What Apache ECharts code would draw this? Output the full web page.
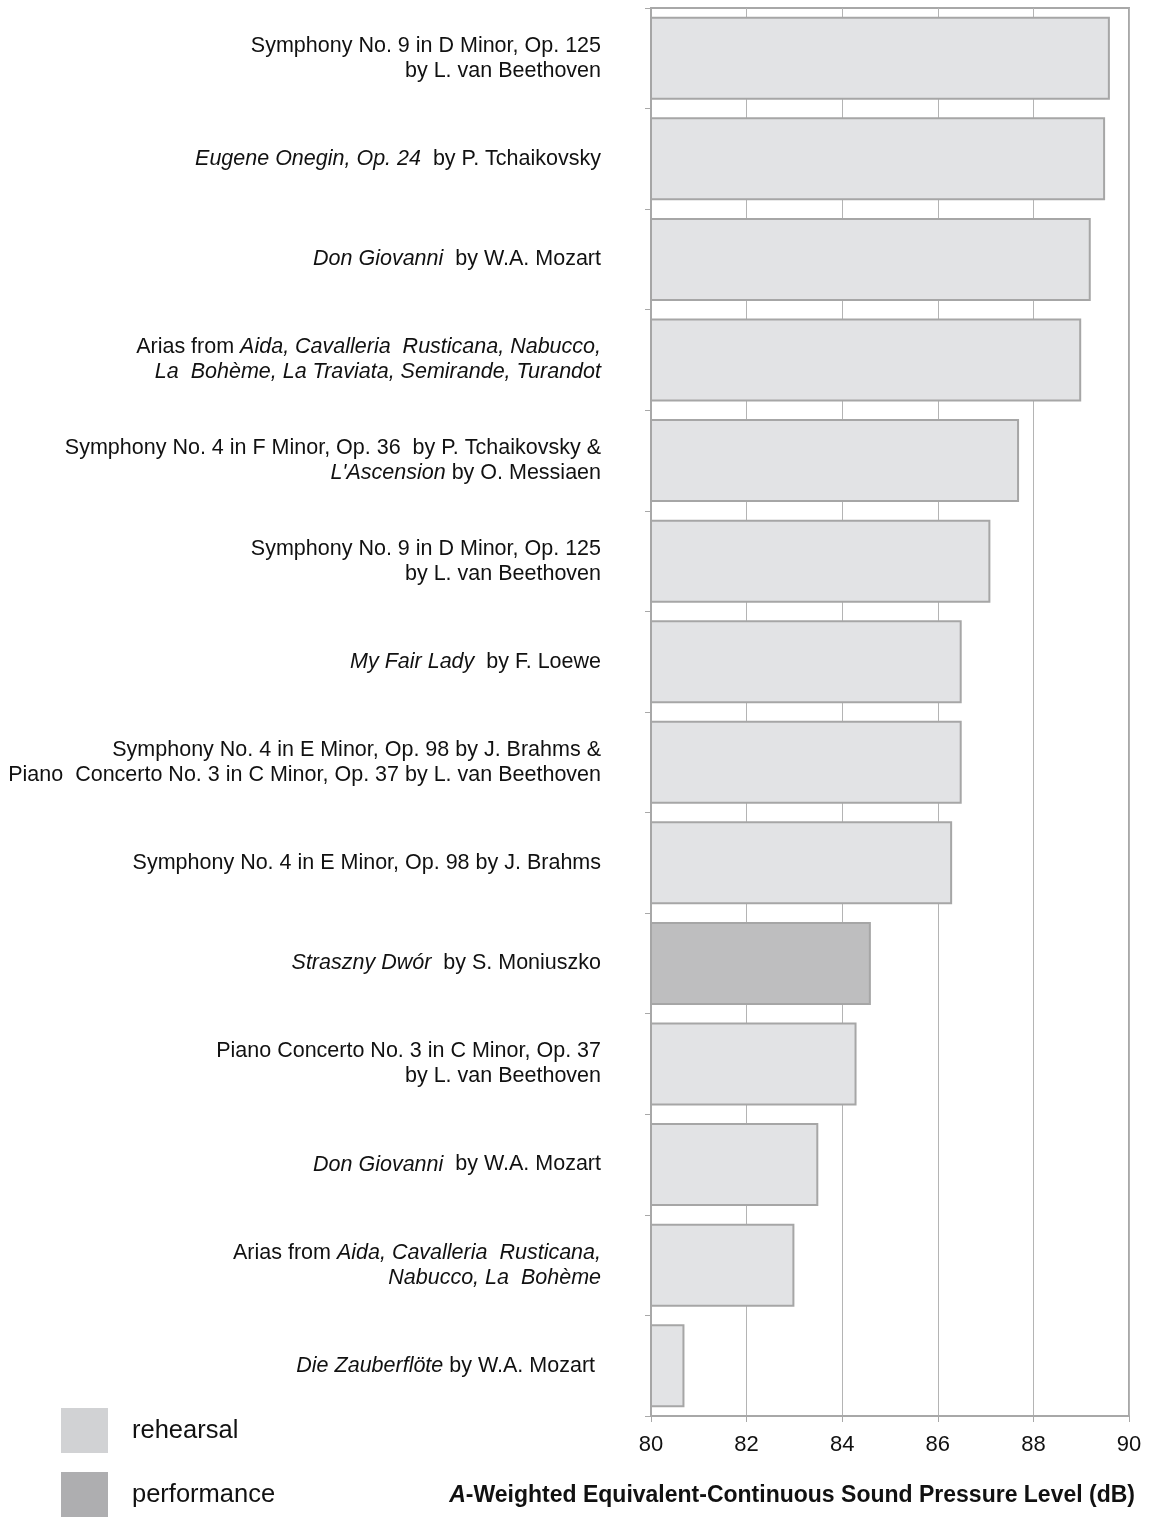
<!DOCTYPE html>
<html>
<head>
<meta charset="utf-8">
<script src="https://cdn.jsdelivr.net/npm/echarts@6/dist/echarts.min.js"></script>
<style>
html,body{margin:0;padding:0;background:#fff;}
#chart{width:1150px;height:1517px;}
</style>
</head>
<body>
<div id="chart"></div>
<script>
// Categories (top to bottom); {i|...} marks italic text
var categories = [
  "Symphony No. 9 in D Minor, Op. 125\nby L. van Beethoven",
  "{i|Eugene Onegin, Op. 24}  by P. Tchaikovsky",
  "{i|Don Giovanni}  by W.A. Mozart",
  "Arias from {i|Aida, Cavalleria  Rusticana, Nabucco,}\n{i|La  Bohème, La Traviata, Semirande, Turandot}",
  "Symphony No. 4 in F Minor, Op. 36  by P. Tchaikovsky &\n{i|L'Ascension} by O. Messiaen",
  "Symphony No. 9 in D Minor, Op. 125\nby L. van Beethoven",
  "{i|My Fair Lady}  by F. Loewe",
  "Symphony No. 4 in E Minor, Op. 98 by J. Brahms &\nPiano  Concerto No. 3 in C Minor, Op. 37 by L. van Beethoven",
  "Symphony No. 4 in E Minor, Op. 98 by J. Brahms",
  "{i|Straszny Dwór}  by S. Moniuszko",
  "Piano Concerto No. 3 in C Minor, Op. 37\nby L. van Beethoven",
  "{i|Don Giovanni}  by W.A. Mozart",
  "Arias from {i|Aida, Cavalleria  Rusticana,}\n{i|Nabucco, La  Bohème}",
  "{i|Die Zauberflöte} by W.A. Mozart "
];
var rehearsal   = [89.6, 89.5, 89.2, 89.0, 87.7, 87.1, 86.5, 86.5, 86.3, '-', 84.3, 83.5, 83.0, 80.7];
var performance = ['-', '-', '-', '-', '-', '-', '-', '-', '-', 84.6, '-', '-', '-', '-'];
var xTicks = [80, 82, 84, 86, 88, 90];

var chart = echarts.init(document.getElementById('chart'));
var FONT = "'Liberation Sans',Arial,sans-serif";
var option = {
  animation: false,
  backgroundColor: '#ffffff',
  grid: {
    left: 651, right: 21, top: 8, bottom: 101,
    show: true, borderColor: '#a8a8a8', borderWidth: 2, backgroundColor: 'transparent'
  },
  legend: {
    orient: 'vertical', left: 61, top: 1408, height: 110, padding: 0,
    itemWidth: 47, itemHeight: 45, itemGap: 19,
    icon: 'rect',
    textStyle: { fontSize: 25.5, color: '#111', fontFamily: FONT, padding: [2, 0, 0, 19] },
    data: [
      { name: 'rehearsal', itemStyle: { color: '#d1d2d4', borderWidth: 0 } },
      { name: 'performance', itemStyle: { color: '#aeaeb0', borderWidth: 0 } }
    ]
  },
  xAxis: {
    type: 'value', min: xTicks[0], max: xTicks[xTicks.length - 1], interval: 2,
    axisLine: { show: true, lineStyle: { color: '#a8a8a8', width: 2 } },
    axisTick: { show: true, length: 6, lineStyle: { color: '#a8a8a8', width: 1 } },
    axisLabel: { fontSize: 22, color: '#111', margin: 18, fontFamily: FONT },
    splitLine: { show: true, lineStyle: { color: '#b4b4b4', width: 1 } }
  },
  yAxis: {
    type: 'category', inverse: true, data: categories,
    axisLine: { show: true, lineStyle: { color: '#a8a8a8', width: 2 } },
    axisTick: { show: true, length: 6, alignWithLabel: false, lineStyle: { color: '#a8a8a8', width: 1 } },
    axisLabel: {
      margin: 50, fontSize: 21.5, color: '#111', lineHeight: 25, fontFamily: FONT,
      rich: { i: { fontStyle: 'italic', fontSize: 21.5, color: '#111', lineHeight: 25, fontFamily: FONT } }
    },
    splitLine: { show: false }
  },
  series: [
    {
      name: 'rehearsal', type: 'bar', stack: 'a', data: rehearsal, barWidth: 83,
      itemStyle: { color: '#e2e3e5', borderColor: '#a6a6a6', borderWidth: 2 }
    },
    {
      name: 'performance', type: 'bar', stack: 'a', data: performance, barWidth: 83,
      itemStyle: { color: '#bebebf', borderColor: '#a6a6a6', borderWidth: 2 }
    }
  ],
  graphic: [
    {
      type: 'text', right: 15, top: 1484,
      style: {
        text: '{bi|A}{b|-Weighted Equivalent-Continuous Sound Pressure Level (dB)}',
        rich: {
          bi: { fontWeight: 'bold', fontStyle: 'italic', fontSize: 23, fill: '#111', fontFamily: FONT },
          b: { fontWeight: 'bold', fontSize: 23, fill: '#111', fontFamily: FONT }
        }
      }
    }
  ]
};
chart.setOption(option);
</script>
</body>
</html>
